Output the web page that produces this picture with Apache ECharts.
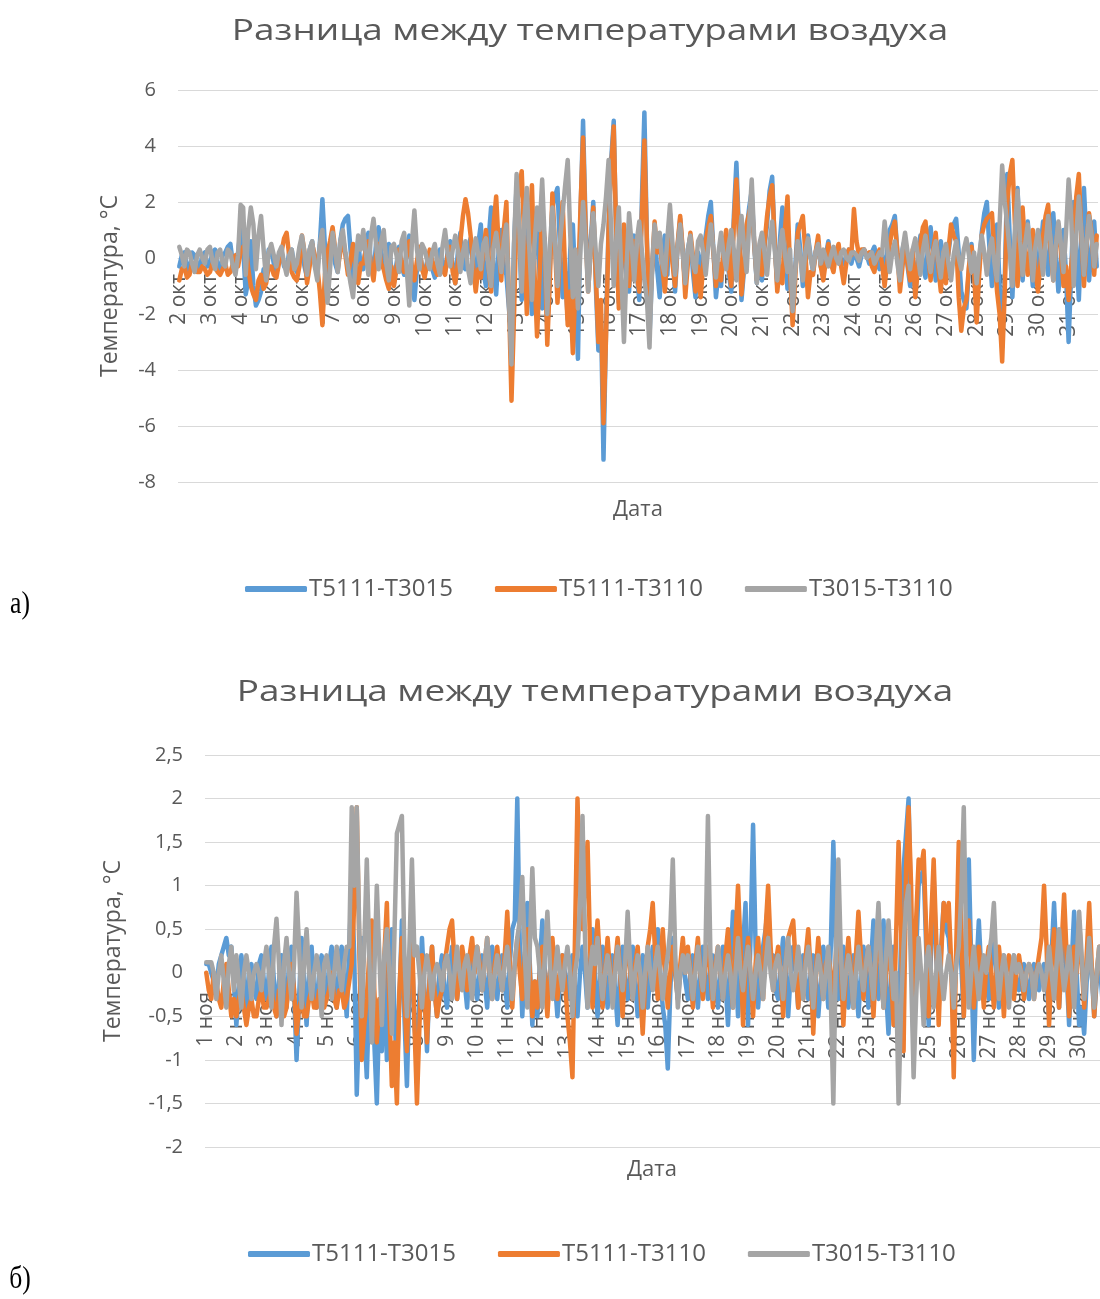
<!DOCTYPE html>
<html><head><meta charset="utf-8">
<script src="https://cdn.jsdelivr.net/npm/echarts@6/dist/echarts.min.js"></script>
<style>html,body{margin:0;padding:0;background:#fff;overflow:hidden}#c{width:1100px;height:1299px}</style>
</head><body><div id="c"></div><script>
// ---------- data ----------
const STEPS = 12; // readings per day (every 2 h)
const daysA = [2,3,4,5,6,7,8,9,10,11,12,13,14,15,16,17,18,19,20,21,22,23,24,25,26,27,28,29,30,31];
const daysB = [1,2,3,4,5,6,7,8,9,10,11,12,13,14,15,16,17,18,19,20,21,22,23,24,25,26,27,28,29,30];
const monthA = 'окт';
const monthB = 'ноя';
const seriesNames = ['T5111-T3015', 'T5111-T3110', 'T3015-T3110'];
const titleText = 'Разница между температурами воздуха';
const yName = 'Температура, °C';
const xName = 'Дата';

// October: T5111-T3015 (one row per day)
const aBlue = [
-0.3,0.1,0.2,-0.3,-0.5,0.2,0.1,-0.2,-0.4,0.1,0.2,-0.3,
-0.2,0.2,0.3,-0.3,-0.4,0.1,0.2,0.4,0.5,-0.2,-0.3,0.2,
1.0,0.4,-1.3,-0.8,0.6,-1.0,-1.7,-1.5,-1.2,-0.4,-0.6,0.3,
0.3,-0.2,-0.6,0.1,0.2,-0.3,-0.4,0.2,0.3,-0.3,-0.5,0.1,
0.2,-0.3,-0.7,0.3,0.6,-0.2,-0.4,0.5,2.1,0.4,-1.2,0.3,
0.8,-0.2,-0.5,0.6,1.2,1.4,1.5,0.3,-0.9,-0.3,0.6,-0.3,
-0.4,0.4,0.9,-0.2,-0.6,0.5,1.1,0.2,-0.3,0.2,0.5,-0.4,
-0.9,-0.2,0.4,-0.3,-0.6,0.3,0.8,-0.6,-1.5,-0.4,0.3,-0.3,
-0.6,-0.1,0.2,-0.4,-0.7,0.1,0.3,-0.2,-0.5,0.2,0.6,-0.3,
-0.9,0.2,0.9,-0.3,-0.4,0.4,0.7,-0.3,-0.8,0.5,1.2,-0.5,
-1.0,0.6,1.8,-0.4,-1.3,0.3,1.0,-0.3,-0.6,-1.8,-3.0,0.5,
2.6,0.8,-1.5,0.6,2.2,-0.5,-2.0,0.4,1.5,-0.6,-1.8,0.7,
-2.6,-0.4,1.8,2.2,2.5,0.3,-1.4,-0.5,-2.2,0.3,1.2,-1.0,
-3.6,1.5,4.9,1.2,-1.0,0.6,2.0,-1.0,-3.3,-2.0,-7.2,-2.5,
1.2,3.5,4.9,0.5,-1.6,-0.4,1.0,-0.6,-1.2,0.3,0.8,-0.5,
-1.5,2.0,5.2,0.6,-2.8,-0.5,1.0,-0.4,-1.4,0.2,0.8,-0.6,
1.6,0.2,-1.2,0.4,1.4,0.2,-1.0,0.3,0.8,-0.5,-1.4,0.2,
-0.7,0.2,0.8,1.5,2.0,0.3,-1.4,-0.5,-1.0,0.2,0.6,-0.5,
-1.2,1.5,3.4,1.0,-1.5,-0.4,1.0,1.8,2.4,0.4,-0.9,0.3,
-0.8,0.4,1.2,2.4,2.9,0.5,-1.0,0.6,1.8,0.3,-1.1,-0.4,
-1.8,-0.4,1.2,0.3,-1.0,-0.2,0.8,0.1,-0.5,0.2,0.6,-0.3,
-0.4,0.1,0.6,-0.1,-0.3,0.2,0.4,-0.1,-0.2,0.1,0.3,-0.2,
0.2,0.0,-0.3,0.1,0.3,0.1,-0.2,0.2,0.4,-0.1,-0.4,0.1,
-0.8,0.3,1.0,1.2,1.5,0.2,-0.6,0.3,0.7,-0.3,-1.0,0.2,
-1.3,-0.2,0.8,-0.2,-0.7,0.4,1.1,0.1,-0.8,0.1,0.6,-0.4,
-0.7,0.2,0.9,1.2,1.4,0.2,-1.2,-1.5,-1.8,-0.4,0.5,-0.6,
-1.5,-0.3,0.9,1.6,2.0,0.4,-1.0,0.3,1.2,-1.0,-3.2,-0.8,
3.0,0.6,-1.4,0.8,2.5,0.4,-0.8,0.5,1.3,0.1,-1.0,0.4,
-1.0,0.3,1.3,0.2,-0.6,0.6,1.6,0.2,-1.2,-0.2,1.0,-0.6,
-3.0,-0.5,2.0,0.3,-1.5,0.8,2.5,0.6,-0.8,0.4,1.3,-0.3];
// October: T5111-T3110
const aOrange = [
-0.8,-0.4,-0.3,-0.7,-0.6,-0.2,-0.2,-0.5,-0.5,-0.3,-0.4,-0.6,
-0.5,-0.2,-0.3,-0.5,-0.6,-0.4,-0.2,-0.6,-0.5,-0.2,0.1,-0.3,
0.2,0.4,0.5,-0.4,-1.0,-1.3,-1.5,-0.8,-0.6,-1.1,-0.9,-0.3,
-0.3,-0.6,-0.7,-0.2,0.2,0.7,0.9,0.1,-0.5,-0.7,-0.8,-0.3,
0.8,0.2,-0.9,-0.3,0.5,0.1,-0.3,-1.2,-2.4,-0.6,0.2,0.6,
1.1,0.3,-0.4,0.2,0.8,0.1,-0.6,-0.1,0.5,-0.3,-0.9,-0.2,
-0.2,0.3,0.6,-0.3,-0.8,0.1,0.5,-0.2,-0.4,-0.8,-1.1,-0.3,
-1.0,-0.4,0.3,-0.2,-0.5,0.2,0.6,-0.3,-0.8,-0.1,0.4,-0.4,
-0.7,-0.2,0.3,-0.1,-0.4,-0.6,-0.2,-0.4,-0.6,0.1,0.4,-0.5,
-0.9,-0.2,0.6,1.5,2.1,1.6,0.8,-0.3,-1.2,-0.4,-0.7,0.3,
1.0,-0.3,-1.2,1.2,2.2,0.4,-0.8,1.0,2.0,-1.5,-5.1,-2.0,
1.8,2.5,3.1,0.6,-2.0,0.8,2.6,-0.5,-2.8,-0.6,1.8,0.5,
-3.1,-0.8,2.3,0.5,-1.6,0.4,2.0,-0.5,-2.4,-1.2,-3.4,-1.0,
-1.2,1.8,4.3,1.0,-1.2,0.3,1.8,-0.6,-3.0,-1.5,-5.9,-2.8,
1.0,3.2,4.7,0.8,-1.8,-0.3,1.2,-0.2,-1.0,0.4,0.6,-0.6,
-1.2,1.5,4.2,0.5,-2.0,-0.4,1.3,0.2,0.6,-0.3,-1.2,0.2,
0.9,-0.2,-1.0,0.5,1.5,0.3,-1.4,-0.2,0.9,0.1,-1.2,-0.3,
-1.4,-0.3,0.6,1.1,1.5,0.2,-1.0,-0.2,-0.8,0.3,1.0,-0.3,
-1.0,1.2,2.8,0.8,-1.3,-0.2,1.2,1.6,2.0,0.5,-0.8,0.4,
-0.6,0.5,1.5,2.2,2.6,0.6,-1.2,-0.3,-0.9,1.0,2.2,-0.4,
-2.4,-0.8,0.9,1.2,1.5,0.2,-1.4,-0.5,-0.6,0.2,0.8,-0.3,
-0.8,-0.1,0.5,-0.2,-0.5,0.2,0.5,-0.3,-0.9,-0.2,0.3,0.1,
1.75,0.6,0.1,0.3,0.3,0.1,0.2,-0.3,-0.5,0.1,0.3,-0.2,
-1.0,-0.2,0.5,1.0,1.3,0.2,-1.2,-0.3,0.6,-0.2,-0.8,0.3,
-1.4,-0.4,0.5,1.1,1.3,0.2,-0.8,0.3,0.9,-0.3,-1.2,0.2,
-0.9,0.3,1.2,0.8,0.6,-1.4,-2.6,-1.8,-1.5,-0.3,0.4,-0.5,
-2.3,-0.6,0.8,1.2,1.4,1.5,1.6,0.2,-1.2,-2.0,-3.7,-1.2,
2.0,3.0,3.5,1.2,-1.0,0.4,1.8,0.3,-0.6,0.3,1.0,-0.4,
-1.2,-0.2,0.8,1.5,1.9,0.3,-0.8,0.4,1.2,0.2,-1.0,-0.3,
-1.5,-0.3,0.6,2.2,3.0,0.8,-1.0,0.5,1.6,0.9,-0.6,0.8];
// October: T3015-T3110
const aGray = [
0.4,0.1,-0.3,0.3,0.2,-0.2,-0.5,0.1,0.3,0.0,-0.2,0.3,
0.4,-0.1,-0.4,0.2,0.3,-0.2,-0.3,0.3,0.2,-0.3,-0.6,0.1,
1.9,1.8,-0.6,1.0,1.8,1.2,-0.4,0.8,1.5,0.3,-0.8,0.2,
0.5,0.1,-0.3,0.2,0.4,-0.2,-0.6,0.1,0.3,-0.4,-0.2,0.4,
0.8,0.2,-0.6,0.3,0.6,-0.3,-0.8,0.5,1.0,-0.5,-1.6,-0.4,
0.9,0.3,-0.5,0.6,1.0,0.2,-0.3,-0.9,-1.4,-0.2,0.8,0.3,
1.0,0.2,-0.6,0.8,1.4,0.5,-0.4,0.6,1.0,-0.2,-0.8,0.4,
0.5,0.1,-0.5,0.6,0.9,-0.4,-1.7,0.5,1.7,0.3,-0.4,0.5,
0.3,-0.1,-0.4,0.2,0.5,-0.2,-0.6,0.4,1.0,0.2,-0.3,0.3,
0.8,0.3,-0.5,0.2,0.6,-0.4,-0.9,0.2,0.7,0.1,-0.4,0.5,
0.7,-0.3,-1.0,0.4,0.9,0.2,-0.5,0.6,1.2,-1.5,-3.8,0.5,
3.0,1.2,-1.2,1.4,2.5,0.3,-1.5,0.5,1.8,1.0,2.8,0.6,
-2.0,0.4,1.8,0.5,-1.0,0.6,1.6,2.6,3.5,0.8,-1.4,0.3,
-1.8,0.3,2.0,0.6,-1.2,0.4,1.6,0.2,-1.0,0.5,1.2,2.2,
3.5,1.0,-1.0,0.6,1.8,-0.6,-3.0,-0.4,1.6,0.5,-0.8,0.6,
1.3,0.3,-0.8,-1.5,-3.2,-0.3,1.2,0.4,0.9,-0.2,-0.6,0.7,
1.9,0.5,-0.6,0.4,1.2,0.2,-0.9,0.3,0.8,-0.2,-0.5,0.6,
0.8,0.2,-0.6,0.4,1.2,0.3,-0.7,0.2,0.9,0.1,-0.4,0.5,
1.0,0.3,-0.8,0.6,1.5,0.4,-0.5,1.2,2.8,0.6,-0.9,0.5,
0.9,0.2,-0.6,0.5,1.3,0.3,-0.8,0.4,1.0,0.1,-0.5,0.3,
-1.9,-0.5,0.6,0.1,-0.8,0.2,0.7,0.0,-0.4,0.2,0.5,-0.2,
0.3,0.0,-0.3,0.1,0.4,0.0,-0.2,0.2,0.3,0.0,-0.1,0.2,
0.2,0.1,-0.1,0.2,0.3,0.0,0.1,0.2,-0.2,0.0,0.2,0.1,
1.3,0.4,-0.5,0.2,0.6,-0.2,-0.8,0.3,0.9,0.2,-0.4,0.3,
0.7,0.1,-0.6,0.3,0.8,0.1,-0.5,0.2,0.6,-0.1,-0.7,0.2,
0.5,-0.2,-0.8,0.1,0.6,0.0,-0.4,0.3,0.7,0.1,-0.5,0.2,
-0.9,0.1,0.8,0.2,-0.6,0.3,0.7,-0.2,-0.8,1.2,3.3,2.0,
1.2,0.2,-1.0,1.0,2.4,0.6,-0.6,0.5,1.2,0.3,-0.8,0.4,
1.0,0.3,-0.6,0.5,1.5,0.6,-0.8,0.4,1.3,0.5,-0.5,0.9,
2.8,1.5,-1.0,0.8,2.2,0.9,-0.6,0.5,1.5,0.8,-0.3,0.5];

// November: T5111-T3015
const bBlue = [
0.1,0.1,0.0,-0.1,-0.2,0.1,0.2,0.3,0.4,0.2,0.3,-0.1,
-0.6,-0.2,0.2,-0.1,-0.4,0.0,0.1,-0.2,-0.3,0.1,0.2,-0.1,
-0.3,0.0,0.3,-0.1,-0.5,-0.1,0.2,-0.1,-0.4,0.1,0.3,-0.2,
-1.0,-0.3,0.4,-0.1,-0.6,0.0,0.3,-0.2,-0.4,0.0,0.2,-0.1,
-0.3,0.1,0.3,-0.1,-0.4,0.1,0.3,-0.1,-0.5,0.3,1.0,0.2,
-1.4,-0.5,0.4,-0.6,-1.2,-0.2,0.3,-0.8,-1.5,-0.4,-0.9,0.2,
-1.0,-0.2,0.5,-0.4,-1.2,-0.3,0.6,-0.5,-1.3,-0.2,0.3,-0.6,
-1.0,-0.3,0.4,-0.2,-0.9,-0.1,0.3,-0.2,-0.5,0.0,0.2,-0.2,
-0.4,0.0,0.3,-0.1,-0.3,0.0,0.2,-0.1,-0.4,0.1,0.3,-0.1,
-0.3,0.0,0.2,-0.1,-0.4,0.1,0.3,-0.1,-0.3,0.0,0.2,-0.1,
-0.4,0.1,0.5,0.6,2.0,0.3,-0.5,0.2,0.8,0.1,-0.6,-0.1,
-0.5,0.1,0.6,0.0,-0.4,0.0,0.3,-0.1,-0.5,-0.1,0.2,0.0,
-0.3,0.0,0.2,-0.2,-0.5,0.0,0.3,0.0,-0.4,0.1,0.5,0.0,
-0.5,-0.1,0.3,0.0,-0.4,0.0,0.2,-0.2,-0.6,0.0,0.3,-0.1,
-0.3,0.0,0.3,-0.1,-0.5,-0.1,0.2,0.0,-0.4,0.0,0.3,0.0,
0.5,0.0,-0.4,-0.6,-1.1,-0.2,0.4,0.0,-0.3,0.0,0.2,-0.1,
-0.3,0.0,0.2,-0.1,-0.4,0.0,0.3,0.0,-0.3,0.0,0.2,-0.1,
-0.4,0.0,0.3,-0.1,-0.6,0.1,0.7,0.2,-0.5,0.0,0.3,0.8,
-0.6,0.4,1.7,0.3,-0.4,0.0,0.3,0.5,0.8,0.1,0.2,-0.2,
-0.3,0.1,0.4,0.0,-0.5,0.0,0.3,0.0,-0.4,0.0,0.2,-0.1,
-0.3,0.0,0.2,-0.1,-0.5,-0.1,0.3,0.0,-0.4,0.3,1.5,0.3,
-0.3,0.0,0.3,0.0,-0.4,0.0,0.2,-0.1,-0.5,0.0,0.3,0.0,
-0.4,0.1,0.6,0.1,-0.3,0.2,0.6,-0.2,-0.7,0.0,0.3,-0.2,
-0.8,0.4,1.2,1.6,2.0,0.6,-0.9,0.2,1.0,1.1,1.2,0.3,
-0.6,0.3,1.1,0.2,-0.4,0.3,0.8,0.5,0.4,0.0,-0.3,0.1,
0.8,0.1,-0.5,0.7,1.3,0.1,-1.0,0.0,0.6,0.0,-0.3,0.0,
-0.3,0.1,0.5,0.0,-0.4,0.0,0.2,-0.1,-0.3,0.0,0.2,-0.1,
-0.2,0.0,0.1,-0.1,-0.3,0.0,0.1,0.0,-0.2,0.0,0.1,-0.1,
-0.5,0.2,0.8,0.1,-0.4,0.1,0.5,0.0,-0.6,0.1,0.7,0.0,
-0.6,-0.4,-0.7,-0.1,0.3,0.0,-0.5,-0.1,0.2,-0.2,-0.6,-0.3];
// November: T5111-T3110
const bOrange = [
0.0,-0.2,-0.3,0.0,-0.1,-0.3,-0.4,-0.1,0.1,-0.2,-0.5,-0.3,
-0.5,-0.3,-0.2,-0.4,-0.6,-0.4,-0.3,-0.5,-0.5,-0.3,-0.2,-0.4,
-0.4,-0.3,-0.2,-0.4,-0.5,-0.2,-0.3,-0.5,-0.4,-0.1,0.1,-0.2,
-0.7,-0.4,-0.3,-0.5,-0.5,-0.3,-0.2,-0.4,-0.4,-0.2,-0.3,-0.4,
-0.3,-0.2,0.0,-0.3,-0.4,-0.2,-0.2,-0.4,-0.3,-0.1,0.1,0.8,
1.9,0.3,-1.0,-0.6,-0.3,0.2,0.6,-0.2,-0.8,-0.3,-0.5,0.2,
0.8,-0.4,-1.3,-0.8,-1.5,-0.2,0.4,-0.3,-0.9,0.1,0.5,-0.6,
-1.5,-0.6,0.2,-0.3,-0.8,-0.1,0.3,-0.2,-0.5,-0.3,-0.2,0.1,
0.3,0.5,0.6,0.1,-0.3,0.0,0.3,0.1,-0.2,0.2,0.4,0.0,
0.3,0.1,-0.2,0.1,0.4,0.0,-0.3,0.1,0.3,0.0,-0.2,0.2,
0.7,0.1,-0.4,0.1,0.4,0.0,-0.3,0.2,0.5,0.0,-0.5,-0.1,
-0.4,0.0,0.3,-0.1,-0.5,0.0,0.4,0.0,-0.3,0.0,0.2,-0.1,
-0.5,-0.8,-1.2,0.4,2.0,1.0,0.5,1.0,1.5,0.3,-0.4,0.2,
0.6,0.1,-0.4,0.0,0.4,0.0,-0.3,0.1,0.4,0.0,-0.5,0.1,
0.4,0.0,-0.3,0.1,0.3,-0.2,-0.7,-0.1,0.3,0.5,0.8,0.2,
-0.3,0.1,0.5,0.0,-0.4,0.0,0.3,0.0,-0.3,0.1,0.4,0.0,
0.3,0.0,-0.4,0.1,0.4,0.0,-0.3,0.1,0.3,0.0,-0.4,0.1,
0.3,0.0,-0.3,0.2,0.5,0.0,-0.4,0.4,1.0,0.3,-0.6,0.1,
0.4,0.0,-0.5,0.1,0.4,0.0,-0.3,0.5,1.0,0.3,-0.2,0.1,
0.3,0.0,-0.5,0.1,0.4,0.5,0.6,0.1,-0.4,0.0,-0.3,0.2,
0.5,0.0,-0.7,0.0,0.4,0.0,-0.3,0.1,0.2,0.0,-0.4,0.2,
0.6,0.1,-0.6,0.0,0.4,0.0,-0.4,0.2,0.7,0.2,-0.3,0.1,
0.3,0.0,-0.5,0.1,0.5,0.1,-0.4,0.0,0.3,0.0,-0.6,0.4,
1.5,0.5,-0.9,1.2,1.9,1.0,-0.8,0.6,1.3,1.2,1.4,0.5,
-0.5,0.6,1.3,0.4,-0.6,0.2,0.8,0.6,0.8,0.1,-1.2,0.3,
1.5,0.5,-0.5,0.2,0.6,0.1,-0.4,0.0,0.3,0.0,-0.4,0.1,
0.3,0.0,-0.4,0.0,0.3,0.0,-0.5,0.0,0.2,0.0,-0.3,0.0,
0.2,0.0,-0.3,0.0,0.1,0.0,-0.3,0.0,0.2,0.4,1.0,0.3,
-0.6,0.1,0.5,0.0,-0.4,0.3,0.9,0.2,-0.5,0.0,0.3,0.0,
0.6,0.1,-0.4,0.2,0.8,0.1,-0.5,0.0,0.3,0.0,-0.2,-0.4];
// November: T3015-T3110
const bGray = [
0.12,0.12,0.12,0.0,-0.3,0.0,0.2,-0.1,-0.4,0.1,0.3,-0.2,
0.2,-0.1,-0.4,0.0,0.2,0.0,-0.3,0.0,0.1,0.0,-0.2,0.1,
0.3,0.0,-0.4,0.3,0.62,0.1,-0.6,0.1,0.4,0.0,-0.3,0.1,
0.92,0.3,-0.4,0.1,0.5,0.0,-0.3,0.0,0.2,0.0,-0.5,0.1,
0.2,0.0,-0.3,0.0,0.3,0.0,-0.2,0.1,0.3,0.3,1.9,1.0,
1.9,0.5,-0.5,0.3,1.3,0.2,-0.8,0.0,1.0,0.2,-0.6,0.2,
0.5,0.0,-0.7,0.4,1.6,1.7,1.8,0.2,-0.5,0.3,1.3,0.2,
0.3,0.0,-0.4,0.0,0.2,0.0,-0.3,0.0,0.1,0.0,-0.2,0.1,
0.2,0.0,-0.3,0.0,0.3,0.0,-0.2,0.1,0.2,0.0,-0.3,0.1,
0.3,0.0,-0.2,0.1,0.4,0.0,-0.3,0.0,0.2,0.0,-0.2,0.1,
0.3,0.0,-0.3,0.1,0.4,0.6,1.1,0.2,-0.4,0.3,1.2,0.4,
0.3,0.0,-0.4,0.2,0.7,0.1,-0.3,0.0,0.3,0.0,-0.2,0.1,
0.3,0.0,-0.5,0.0,0.2,0.8,1.8,0.4,-0.4,0.0,0.3,0.1,
0.4,0.0,-0.3,0.0,0.2,0.0,-0.4,0.0,0.3,0.0,-0.2,0.1,
0.7,0.1,-0.3,0.0,0.2,0.0,-0.4,0.0,0.3,0.0,-0.2,0.1,
0.3,0.0,-0.3,0.0,0.2,0.5,1.3,0.2,-0.4,0.0,0.2,0.0,
0.2,0.0,-0.3,0.0,0.3,0.0,-0.2,0.2,1.8,0.2,-0.3,0.0,
0.3,0.0,-0.3,0.0,0.2,0.0,-0.4,0.0,0.4,0.0,-0.2,0.1,
0.3,0.0,-0.3,0.0,0.2,0.0,-0.3,0.1,0.4,0.0,-0.2,0.1,
0.2,0.0,-0.3,0.1,0.4,0.0,-0.2,0.0,0.3,0.0,-0.3,0.1,
0.3,0.0,-0.4,0.0,0.2,0.0,-0.3,0.0,0.3,-0.3,-1.5,0.2,
1.3,0.2,-0.3,0.0,0.2,0.0,-0.4,0.0,0.3,0.0,-0.2,0.1,
0.3,0.0,-0.3,0.3,0.8,0.1,-0.4,0.2,0.6,0.1,-0.3,0.0,
-1.5,-0.4,0.3,0.8,1.0,0.0,-1.2,-0.3,0.4,0.0,-0.6,0.1,
0.3,0.0,-0.4,0.0,0.3,0.0,-0.3,0.0,0.2,0.0,-0.4,0.1,
0.3,0.9,1.9,0.2,-0.4,0.0,0.3,0.0,-0.3,0.0,0.2,0.0,
0.2,0.4,0.8,0.1,-0.3,0.0,0.2,0.0,-0.4,0.0,0.2,0.0,
0.1,0.0,-0.2,0.0,0.1,0.0,-0.3,0.0,0.1,0.0,-0.2,0.0,
0.3,0.0,-0.3,0.1,0.5,0.1,-0.2,0.0,0.3,0.0,-0.4,0.1,
0.7,0.2,-0.3,0.0,0.4,0.0,-0.4,0.0,0.3,0.0,-0.3,0.3];

// ---------- chart ----------
const COLORS = ['#5B9BD5', '#ED7D31', '#A5A5A5'];
const FONT = '"Open Sans", "Noto Sans", sans-serif';
const TXT = '#595959';
const GRID = '#D9D9D9';

function cats(days, month) {
  const out = [];
  days.forEach(d => { for (let h = 0; h < STEPS; h++) out.push(d + ' ' + month + '|' + h); });
  return out;
}
function xAxis(days, month, gi, margin) {
  return {
    type: 'category', gridIndex: gi, data: cats(days, month), boundaryGap: true,
    position: 'bottom', offset: 0,
    axisTick: { show: false },
    axisLine: { show: true, onZero: false, lineStyle: { color: GRID, width: 1 } },
    axisLabel: {
      interval: (i) => i % STEPS === 0, rotate: 90, margin: margin,
      fontSize: 21, color: TXT, fontFamily: FONT,
      formatter: (v) => v.split('|')[0]
    }
  };
}
function yAxis(min, max, step, gi, gap) {
  return {
    type: 'value', gridIndex: gi, min: min, max: max, interval: step,
    name: yName, nameLocation: 'middle', nameRotate: 90, nameGap: gap,
    nameTextStyle: { fontSize: 23, color: TXT, fontFamily: FONT },
    axisLine: { show: false }, axisTick: { show: false },
    splitLine: { lineStyle: { color: GRID, width: 1 } },
    axisLabel: { fontSize: 20, color: TXT, fontFamily: FONT, margin: 22,
      formatter: (v) => String(v).replace('.', ',') }
  };
}
function lines(arrs, gi) {
  return arrs.map((d, i) => ({
    name: seriesNames[i], type: 'line', xAxisIndex: gi, yAxisIndex: gi,
    data: d, symbol: 'none', showSymbol: false, silent: true,
    lineStyle: { width: 4.5, color: COLORS[i], join: 'round', cap: 'round' }, itemStyle: { color: COLORS[i] },
    z: 2 + i
  }));
}
function legend(left, top) {
  return {
    left: left, top: top, icon: 'roundRect', itemWidth: 62, itemHeight: 6, itemGap: 42,
    selectedMode: false, data: seriesNames,
    textStyle: { fontSize: 24, color: TXT, fontFamily: FONT, padding: [0, 0, 0, -3] }
  };
}
function txt(x, y, s, size, color, family, sx) {
  return {
    type: 'text', x: x, y: y, scaleX: sx || 1, silent: true,
    style: { text: s, fontSize: size, fill: color, fontFamily: family,
      textAlign: 'center', textVerticalAlign: 'middle' }
  };
}

const chart = echarts.init(document.getElementById('c'), null, { renderer: 'canvas' });
const option = {
  animation: false,
  backgroundColor: '#fff',
  color: COLORS,
  grid: [
    { left: 178, right: 2, top: 90, height: 392, containLabel: false, outerBoundsMode: 'none' },
    { left: 205, right: -8, top: 755, height: 392, containLabel: false, outerBoundsMode: 'none' }
  ],
  xAxis: [xAxis(daysA, monthA, 0, 16), xAxis(daysB, monthB, 1, 19)],
  yAxis: [yAxis(-8, 6, 2, 0, 56), yAxis(-2, 2.5, 0.5, 1, 80)],
  legend: [legend(240, 572), legend(243, 1237)],
  series: lines([aBlue, aOrange, aGray], 0).concat(lines([bBlue, bOrange, bGray], 1)),
  graphic: [
    txt(590, 31, titleText, 30, TXT, FONT, 1.23),
    txt(595, 692, titleText, 30, TXT, FONT, 1.23),
    txt(638, 510, xName, 22, TXT, FONT),
    txt(652, 1170, xName, 22, TXT, FONT),
    txt(20, 605, 'а)', 32, '#000', '"Liberation Serif", serif', 0.8),
    txt(20, 1280, 'б)', 32, '#000', '"Liberation Serif", serif', 0.8)
  ]
};
chart.setOption(option);
// place each date axis on the zero line of its value axis
const offs = [[0, -8], [1, -2]].map(([gi, mn]) => {
  const yZero = chart.convertToPixel({ yAxisIndex: gi }, 0);
  const yBottom = chart.convertToPixel({ yAxisIndex: gi }, mn);
  return yZero - yBottom;
});
chart.setOption({ xAxis: [{ offset: offs[0] }, { offset: offs[1] }] });
</script></body></html>
